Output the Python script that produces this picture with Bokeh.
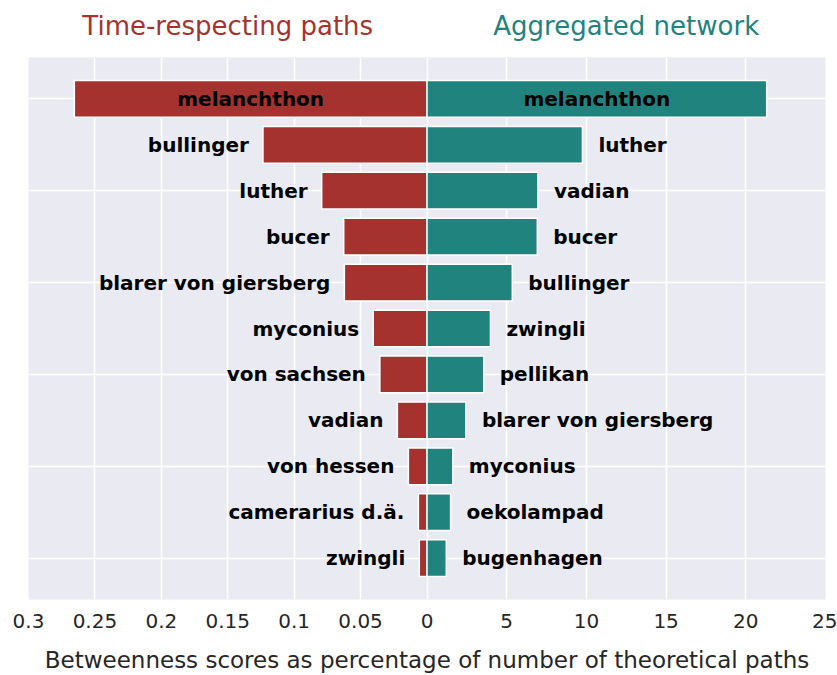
from bokeh.plotting import figure
from bokeh.models import Range1d, FixedTicker
from bokeh.layouts import column
from bokeh.core.properties import value
from bokeh.embed import file_html
from bokeh.resources import INLINE

# ---- data ----
tr_names = ["melanchthon", "bullinger", "luther", "bucer", "blarer von giersberg",
            "myconius", "von sachsen", "vadian", "von hessen", "camerarius d.ä.", "zwingli"]
tr_values = [0.2655, 0.1235, 0.0793, 0.0627, 0.0622, 0.0405, 0.0355, 0.0223, 0.0140, 0.0065, 0.0058]

agg_names = ["melanchthon", "luther", "vadian", "bucer", "bullinger", "zwingli",
             "pellikan", "blarer von giersberg", "myconius", "oekolampad", "bugenhagen"]
agg_values = [21.31, 9.75, 6.96, 6.92, 5.35, 3.98, 3.56, 2.44, 1.62, 1.48, 1.21]

tr_ticks = [0.3, 0.25, 0.2, 0.15, 0.1, 0.05, 0]
tr_tick_labels = ["0.3", "0.25", "0.2", "0.15", "0.1", "0.05", "0"]
agg_ticks = [5, 10, 15, 20, 25]
agg_tick_labels = ["5", "10", "15", "20", "25"]

title_tr = "Time-respecting paths"
title_agg = "Aggregated network"
x_label = "Betweenness scores as percentage of number of theoretical paths"

# ---- style ----
RED = "#a63230"
TEAL = "#21837e"
BG = "#eaeaf2"
TXT = "#262626"
FONT = "DejaVu Sans"
W = 837
TITLE_H = 57
MAIN_H = 618
BL, BR = 28, 12

TR_MAX = max(tr_ticks)
AGG_MAX = max(agg_ticks)
n = len(tr_names)
rows = list(range(n))

x_agg = Range1d(-AGG_MAX, AGG_MAX)
x_tr = Range1d(TR_MAX, -TR_MAX)

# ---- main plot ----
p = figure(width=W, height=MAIN_H, output_backend="svg", toolbar_location=None, title=None,
           x_range=x_agg, y_range=Range1d(n - 1 + 0.9, -0.9),
           min_border_left=BL, min_border_right=BR, min_border_top=0, min_border_bottom=76)
p.extra_x_ranges = {"tr": x_tr}

p.background_fill_color = BG
p.border_fill_color = "white"
p.outline_line_color = None

# bars
p.hbar(y=rows, left=0, right=tr_values, height=0.8, x_range_name="tr",
       fill_color=RED, line_color="white", line_width=1.5)
p.hbar(y=rows, left=0, right=agg_values, height=0.8,
       fill_color=TEAL, line_color="white", line_width=1.5)

# bar labels
txt_kw = dict(text_font=value(FONT), text_font_style="bold", text_font_size="20px",
              text_color="black", text_baseline="middle")
p.text(x=[tr_values[0] / 2], y=rows[:1], text=tr_names[:1], x_range_name="tr",
       text_align="center", **txt_kw)
p.text(x=tr_values[1:], y=rows[1:], text=tr_names[1:], x_range_name="tr",
       text_align="right", x_offset=-14, **txt_kw)
p.text(x=[agg_values[0] / 2], y=rows[:1], text=agg_names[:1],
       text_align="center", **txt_kw)
p.text(x=agg_values[1:], y=rows[1:], text=agg_names[1:],
       text_align="left", x_offset=16, **txt_kw)

# x axis: left half in time-respecting units, right half in aggregated units
tick_pos = [-(t / TR_MAX) * AGG_MAX for t in tr_ticks] + list(agg_ticks)
tick_lab = tr_tick_labels + agg_tick_labels
p.xaxis.ticker = FixedTicker(ticks=tick_pos)
p.xgrid.ticker = FixedTicker(ticks=tick_pos)
p.xaxis.major_label_overrides = dict(zip(tick_pos, tick_lab))
p.xaxis.axis_label = x_label
p.xaxis.axis_label_text_font = FONT
p.xaxis.axis_label_text_font_style = "normal"
p.xaxis.axis_label_text_font_size = "23px"
p.xaxis.axis_label_text_color = TXT
p.xaxis.axis_label_standoff = 16
p.xaxis.major_label_text_font = FONT
p.xaxis.major_label_text_font_size = "20px"
p.xaxis.major_label_text_color = TXT
p.xaxis.major_label_standoff = 8
p.xaxis.axis_line_color = None
p.xaxis.major_tick_line_color = None
p.xaxis.minor_tick_line_color = None

p.yaxis.visible = False
p.ygrid.ticker = FixedTicker(ticks=rows[::2])
p.xgrid.grid_line_color = "white"
p.ygrid.grid_line_color = "white"
p.xgrid.grid_line_width = 1.5
p.ygrid.grid_line_width = 1.5

# ---- panel titles (strip above, sharing the x scales) ----
t = figure(width=W, height=TITLE_H, output_backend="svg", toolbar_location=None, title=None,
           x_range=x_agg, y_range=Range1d(0, 1), x_axis_type=None, y_axis_type=None,
           min_border_left=BL, min_border_right=BR, min_border_top=0, min_border_bottom=0)
t.extra_x_ranges = {"tr": x_tr}
t.outline_line_color = None
t.background_fill_color = "white"
t.border_fill_color = "white"
t.xgrid.visible = False
t.ygrid.visible = False
ttl_kw = dict(text_font=value(FONT), text_font_size="26px", text_align="center",
              text_baseline="middle")
t.text(x=[TR_MAX / 2], y=[0.55], text=[title_tr], x_range_name="tr", text_color=RED, **ttl_kw)
t.text(x=[AGG_MAX / 2], y=[0.55], text=[title_agg], text_color=TEAL, **ttl_kw)

layout = column(t, p, spacing=0)
open("out.html", "w").write(file_html(layout, INLINE))
